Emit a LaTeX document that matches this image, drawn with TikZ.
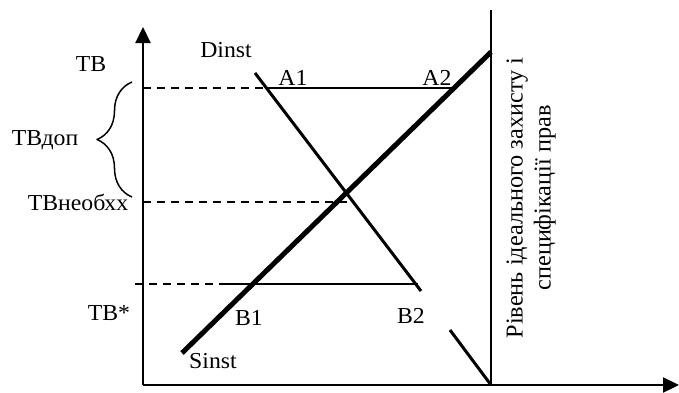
\documentclass[tikz,border=0pt]{standalone}
\usepackage{fontspec}
\setmainfont{Liberation Serif}
\usepackage{graphicx}
\usetikzlibrary{arrows.meta,decorations.pathreplacing}

% the scanned text is a little wider than it is tall
\newcommand{\widetxt}[1]{\scalebox{1.04}[1]{#1}}

\begin{document}
\begin{tikzpicture}[
				x=0.2mm, y=-0.2mm,
				every node/.style={font=\fontsize{13}{15}\selectfont, inner sep=0pt},
				line join=round,
				axis/.style={line width=0.45mm, -{Triangle[length=3.2mm,width=3mm]}},
				guide/.style={line width=0.4mm, dash pattern=on 1.6mm off 1.2mm},
				level/.style={line width=0.4mm},
				lbl/.style={anchor=base}
				]
				
				\useasboundingbox (0,0) rectangle (679,393);
				
				% Points
				\coordinate (o) at (143,385);
				\coordinate (ytop) at (143,27);
				\coordinate (xend) at (679,385);
				\coordinate (vtop) at (491,10);
				\coordinate (vbot) at (491,385);
				\coordinate (s1) at (182,353);
				\coordinate (s2) at (491,52);
				\coordinate (d1) at (255,73);
				\coordinate (d2) at (421,291);
				\coordinate (d3) at (450,330);
				\coordinate (a0) at (143,88);
				\coordinate (aD) at (267,88);
				\coordinate (aS) at (454,88);
				\coordinate (n0) at (143,202);
				\coordinate (nD) at (354,202);
				\coordinate (b0) at (135,284);
				\coordinate (bm) at (220,284);
				\coordinate (bD) at (418,284);
				\coordinate (brb) at (132,197);
				\coordinate (brt) at (132,82);
				
				% Axes
				\draw[axis] (o) -- (ytop);
				\draw[axis] (o) -- (xend);
				\draw[line width=0.5mm] (vbot) -- (vtop);
				
				% Levels
				\draw[guide] (a0) -- (aD);
				\draw[level] (aD) -- (aS);
				\draw[guide] (n0) -- (nD);
				\draw[guide] (b0) -- (bm);
				\draw[level] (bm) -- (bD);
				
				% Curves
				\draw[line width=1mm] (s1) -- (s2);
				\draw[line width=0.6mm] (d1) -- (d2);
				\draw[line width=0.6mm] (d3) -- (vbot);
				
				% Brace
				\draw[line width=0.3mm, decorate,
				decoration={brace, amplitude=7mm, aspect=0.5}] (brb) -- (brt);
				
				% Labels
				\node[lbl] (tb) at (91,71) {\widetxt{ТВ}};
				\node[lbl] (tbdop) at (45,145) {\widetxt{ТВдоп}};
				\node[lbl] (tbneob) at (78,210) {\widetxt{ТВнеобхх}};
				\node[lbl] (tbstar) at (109,320) {\widetxt{ТВ*}};
				\node[lbl] (dinst) at (226,57) {\widetxt{Dinst}};
				\node[lbl] (sinst) at (213,368) {\widetxt{Sinst}};
				\node[lbl] (a1) at (293,85) {\widetxt{A1}};
				\node[lbl] (a2) at (437,85) {\widetxt{A2}};
				\node[lbl] (b1) at (249,325) {\widetxt{B1}};
				\node[lbl] (b2) at (411,323) {\widetxt{B2}};
				\node[rotate=90, font=\fontsize{13.8}{15.9}\selectfont] (rights) at (531,198)
				{\begin{tabular}{@{}c@{}}Рівень ідеального захисту і\\ специфікації прав\end{tabular}};
				
			\end{tikzpicture}
\end{document}
